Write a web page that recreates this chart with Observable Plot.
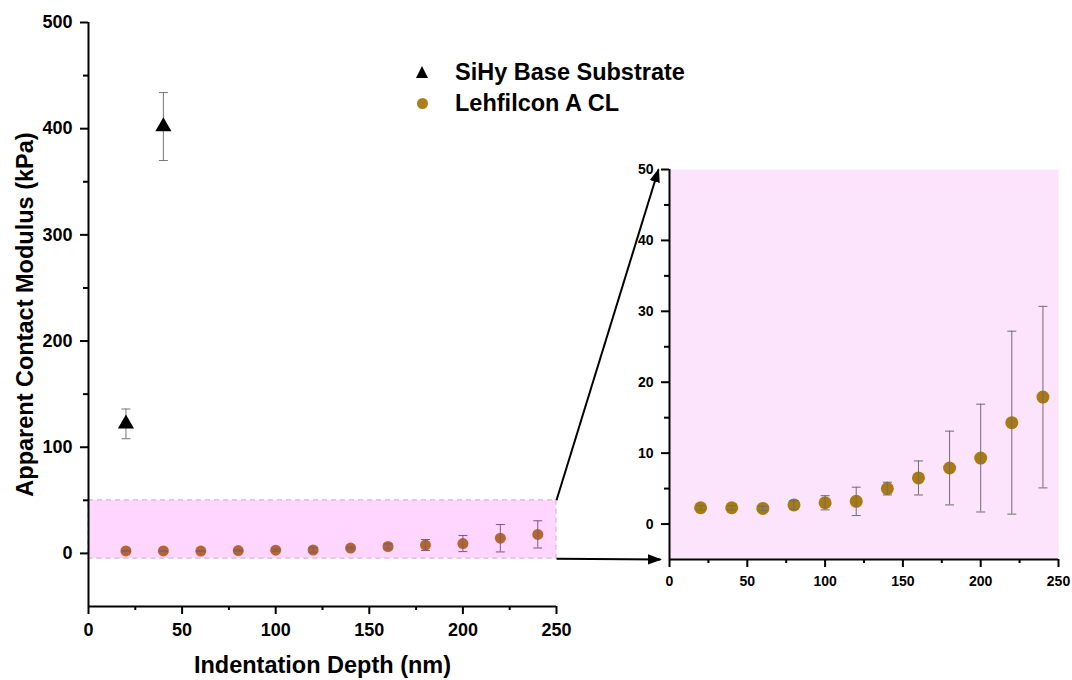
<!DOCTYPE html>
<html>
<head>
<meta charset="utf-8">
<script src="https://cdn.jsdelivr.net/npm/d3@7"></script>
<script src="https://cdn.jsdelivr.net/npm/@observablehq/plot@0.6"></script>
<style>
  body { margin: 0; background: #fff; }
  #chart { position: relative; width: 1072px; height: 680px; overflow: hidden;
           font-family: "Liberation Sans", Arial, sans-serif; }
  #chart svg { position: absolute; }
  .leg-text { position: absolute; font-size: 23.5px; font-weight: bold; line-height: 31px; color: #000; white-space: nowrap; }
  .leg-tri { position: absolute; width: 0; height: 0; border-left: 6.5px solid transparent;
             border-right: 6.5px solid transparent; border-bottom: 12px solid #000; }
  .leg-dot { position: absolute; width: 11px; height: 11px; border-radius: 50%; background: #AD7E1B; }
</style>
</head>
<body>
<div id="chart"></div>
<script>
// Indentation depths (nm)
const depth = [20, 40, 60, 80, 100, 120, 140, 160, 180, 200, 220, 240];
// Lehfilcon A CL apparent contact modulus (kPa), mean and standard deviation
const lehfilconMean = [2.3, 2.3, 2.2, 2.7, 3.0, 3.2, 5.0, 6.5, 7.9, 9.3, 14.3, 17.9];
const lehfilconSd   = [0.3, 0.3, 0.3, 0.6, 1.0, 2.0, 0.9, 2.4, 5.2, 7.6, 12.9, 12.8];
// SiHy base substrate
const sihyDepth = [20, 40];
const sihyMean  = [122, 402];
const sihySd    = [14, 32];
// Series names
const seriesNames = ["SiHy Base Substrate", "Lehfilcon A CL"];
// Axis ranges and ticks
const mainX = [0, 250];
const mainY = [-50, 500];
const zoomX = [0, 250];
const zoomY = [-5, 50];
const xMajor = [0, 50, 100, 150, 200, 250];
const xMinor = [25, 75, 125, 175, 225];
const mainYMajor = [0, 100, 200, 300, 400, 500];
const mainYMinor = [50, 150, 250, 350, 450];
const zoomYMajor = [0, 10, 20, 30, 40, 50];
const zoomYMinor = [5, 15, 25, 35, 45];
const xTitle = "Indentation Depth (nm)";
const yTitle = "Apparent Contact Modulus (kPa)";

const font = '"Liberation Sans", Arial, sans-serif';

const lehf = depth.map((d, i) => ({depth: d, mean: lehfilconMean[i], lo: lehfilconMean[i] - lehfilconSd[i], hi: lehfilconMean[i] + lehfilconSd[i]}));
const sihy = sihyDepth.map((d, i) => ({depth: d, mean: sihyMean[i], lo: sihyMean[i] - sihySd[i], hi: sihyMean[i] + sihySd[i]}));
const capsOf = rows => rows.flatMap(r => [{depth: r.depth, v: r.lo}, {depth: r.depth, v: r.hi}]);

// horizontal bar used as the error-bar cap
const capSymbol = {draw(ctx, size) { const r = Math.sqrt(size / Math.PI); ctx.moveTo(-r, 0); ctx.lineTo(r, 0); }};

function errorBars(rows, color) {
  return [
    Plot.ruleX(rows, {x: "depth", y1: "lo", y2: "hi", stroke: color, strokeWidth: 1}),
    Plot.dot(capsOf(rows), {x: "depth", y: "v", symbol: capSymbol, r: 4.5, stroke: color, strokeWidth: 1, fill: "none"})
  ];
}

function axes(yMajor, yMinor, yBottom, xLeft, fontSize) {
  const t = {fontSize, fontWeight: "bold", strokeWidth: 2, label: null};
  return [
    Plot.axisY({...t, ticks: yMajor, tickSize: 8, tickPadding: 8}),
    Plot.axisY({...t, ticks: yMinor, tickSize: 5, tickFormat: () => ""}),
    Plot.axisX({...t, ticks: xMajor, tickSize: 8, tickPadding: 9}),
    Plot.axisX({...t, ticks: xMinor, tickSize: 4, tickFormat: () => ""}),
    Plot.ruleX([xLeft], {stroke: "#000", strokeWidth: 2}),
    Plot.ruleY([yBottom], {stroke: "#000", strokeWidth: 2})
  ];
}

const main = Plot.plot({
  width: 600, height: 680,
  marginLeft: 88, marginRight: 44, marginTop: 22, marginBottom: 74,
  x: {domain: mainX, label: null},
  y: {domain: mainY, label: null},
  style: {fontFamily: font, fontWeight: "bold", color: "#000", background: "transparent", overflow: "visible"},
  marks: [
    Plot.rect([{x1: zoomX[0], x2: zoomX[1], y1: zoomY[0], y2: zoomY[1]}],
      {x1: "x1", x2: "x2", y1: "y1", y2: "y2", fill: "#FFD6FF", stroke: "#D7B5D7", strokeWidth: 1.2, strokeDasharray: "5,4"}),
    ...errorBars(sihy, "#777"),
    Plot.dot(sihy, {x: "depth", y: "mean", symbol: "triangle", r: 6, fill: "#000", stroke: "none"}),
    Plot.dot(lehf, {x: "depth", y: "mean", r: 5.5, fill: "#B4662F", stroke: "none"}),
    ...errorBars(lehf, "#7A5B7C"),
    ...axes(mainYMajor, mainYMinor, mainY[0], mainX[0], 18),
    Plot.text([yTitle], {text: d => d, frameAnchor: "left", textAnchor: "middle", lineAnchor: "middle", dx: -63, rotate: -90, fontSize: 23.5, fontWeight: "bold"}),
    Plot.text([xTitle], {text: d => d, frameAnchor: "bottom", textAnchor: "middle", lineAnchor: "middle", dy: 59, fontSize: 23.5, fontWeight: "bold"})
  ]
});
main.style.left = "0px";
main.style.top = "0px";

const insetLeft = 600, insetTop = 150;
const inset = Plot.plot({
  width: 472, height: 470,
  marginLeft: 69, marginRight: 14, marginTop: 19, marginBottom: 61,
  x: {domain: zoomX, label: null},
  y: {domain: zoomY, label: null},
  style: {fontFamily: font, fontWeight: "bold", color: "#000", background: "transparent", overflow: "visible"},
  marks: [
    Plot.frame({fill: "#FCE4FD", stroke: "none"}),
    Plot.dot(lehf, {x: "depth", y: "mean", r: 6.5, fill: "#A97A14", stroke: "none"}),
    ...errorBars(lehf, "#6E6E6E"),
    ...axes(zoomYMajor, zoomYMinor, zoomY[0], zoomX[0], 14)
  ]
});
inset.style.left = insetLeft + "px";
inset.style.top = insetTop + "px";

// Connector arrows from the highlighted window to the enlarged view
const mx = main.scale("x"), my = main.scale("y");
const ix = inset.scale("x"), iy = inset.scale("y");
const connectors = [
  {x1: mx.apply(zoomX[1]), y1: my.apply(zoomY[1]), x2: insetLeft + ix.apply(zoomX[0]) - 11, y2: insetTop + iy.apply(zoomY[1])},
  {x1: mx.apply(zoomX[1]), y1: my.apply(zoomY[0]), x2: insetLeft + ix.apply(zoomX[0]) - 9, y2: insetTop + iy.apply(zoomY[0])}
];
const overlay = Plot.plot({
  width: 1072, height: 680, margin: 0, axis: null,
  x: {type: "identity"}, y: {type: "identity"},
  style: {background: "transparent", overflow: "visible"},
  marks: [Plot.link(connectors, {x1: "x1", y1: "y1", x2: "x2", y2: "y2", stroke: "#000", strokeWidth: 2})]
});
overlay.style.left = "0px";
overlay.style.top = "0px";
overlay.style.pointerEvents = "none";
const ov = d3.select(overlay);
ov.append("defs").append("marker")
  .attr("id", "arrowhead").attr("viewBox", "0 0 10 10").attr("refX", 9).attr("refY", 5)
  .attr("markerWidth", 7).attr("markerHeight", 7).attr("orient", "auto")
  .append("path").attr("d", "M0,1.3L10,5L0,8.7Z").attr("fill", "#000");
ov.selectAll('g[aria-label="link"] path').attr("marker-end", "url(#arrowhead)");

const chart = document.getElementById("chart");
chart.append(main, inset, overlay);

// Legend
const legendRows = [{name: seriesNames[0], cls: "leg-tri", w: 13, h: 12}, {name: seriesNames[1], cls: "leg-dot", w: 11, h: 11}];
legendRows.forEach((r, i) => {
  const cy = 72 + i * 31;
  const sym = document.createElement("div");
  sym.className = r.cls;
  sym.style.left = (422 - r.w / 2) + "px";
  sym.style.top = (cy - r.h / 2) + "px";
  const txt = document.createElement("div");
  txt.className = "leg-text";
  txt.textContent = r.name;
  txt.style.left = "455px";
  txt.style.top = (cy - 15.5) + "px";
  chart.append(sym, txt);
});
</script>
</body>
</html>
